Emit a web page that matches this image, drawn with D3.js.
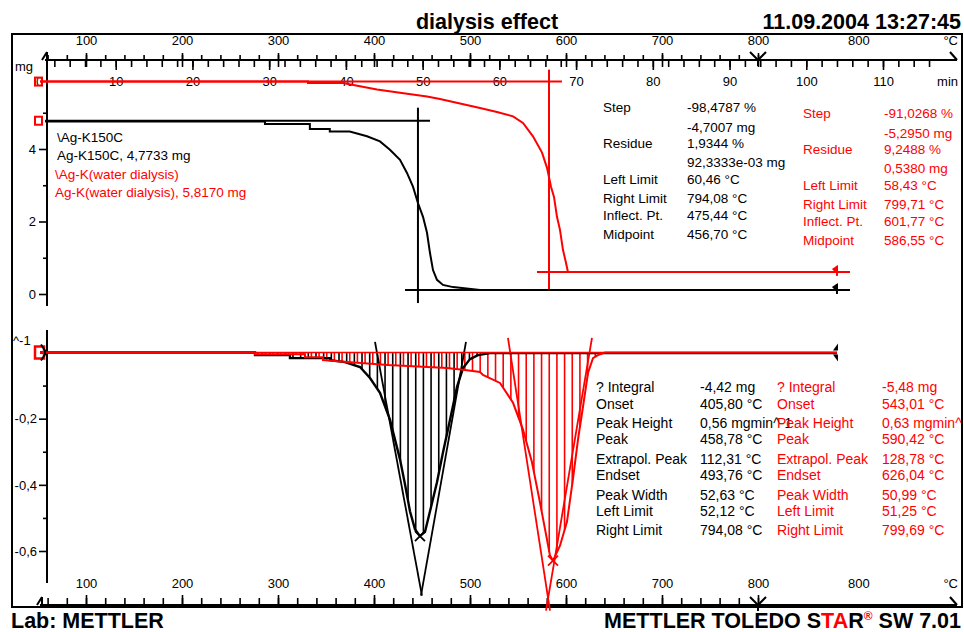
<!DOCTYPE html>
<html>
<head>
<meta charset="utf-8">
<script src="https://cdn.jsdelivr.net/npm/d3@7"></script>
<style>
body { margin: 0; background: #fff; }
text { font-family: "Liberation Sans", Arial, sans-serif; }
</style>
</head>
<body>
<script>
// Curves: [time (min), value]
const blackTga = [[0.8,4.76],[29.45,4.76],[29.45,4.69],[35.3,4.69],[35.3,4.55],[37.9,4.55],[37.9,4.48],[40.5,4.48],
  [42.75,4.35],[44.44,4.21],[45.74,3.98],[47.05,3.70],[47.96,3.34],[48.74,2.96],[49.39,2.51],[50.05,2.13],
  [50.57,1.69],[50.96,1.13],[51.35,0.66],[51.87,0.39],[52.65,0.25],[53.96,0.19],[57.48,0.11],[104,0.11]];
const redTga = [[0.13,5.86],[35.06,5.86],[35.06,5.82],[39.62,5.82],[41.84,5.73],[44.05,5.64],[47.05,5.55],
  [50.57,5.45],[52.26,5.38],[57.48,5.13],[59.69,5.02],[61.78,4.90],[63.08,4.72],[64.38,4.35],[65.56,3.90],
  [66.21,3.48],[66.73,2.96],[67.12,2.68],[67.51,2.13],[67.90,1.77],[68.29,1.22],[68.68,0.86],[68.94,0.61],[104,0.61]];
const blackDtg = [[0.13,0],[28.15,0],[28.15,-0.008],[32.71,-0.008],[32.71,-0.017],[37.93,-0.017],[37.93,-0.023],
  [39.88,-0.029],[41.84,-0.044],[43.14,-0.077],[44.44,-0.122],[45.74,-0.203],[47.05,-0.323],[47.70,-0.398],
  [48.35,-0.480],[49.0,-0.534],[49.65,-0.555],[50.31,-0.542],[50.96,-0.480],[51.87,-0.392],[52.65,-0.302],
  [53.57,-0.203],[54.48,-0.104],[55.26,-0.047],[56.17,-0.020],[57.21,-0.008],[58.78,-0.002],[104,-0.002]];
const redDtg = [[0.13,0],[28.15,0],[28.15,-0.005],[34.67,-0.005],[34.67,-0.014],[37.01,-0.014],[37.01,-0.023],
  [40.14,-0.029],[45.48,-0.038],[53.17,-0.047],[55.52,-0.053],[57.48,-0.059],[57.86,-0.068],[60.08,-0.092],
  [61.78,-0.152],[63.08,-0.233],[64.25,-0.332],[65.29,-0.453],[65.95,-0.534],[66.60,-0.614],[66.99,-0.629],
  [67.90,-0.584],[68.81,-0.512],[69.59,-0.383],[70.25,-0.263],[70.90,-0.164],[71.55,-0.062],[72.20,-0.017],
  [72.85,-0.008],[73.77,0],[104,0]];

// evaluation lines
const blackStepLines = [[[0.8,4.78],[50.96,4.78]], [[49.39,5.14],[49.39,-0.25]], [[47.7,0.11],[105.7,0.11]]];
const redStepLines = [[[0.13,5.86],[68.16,5.86]], [[66.47,6.19],[66.47,0.11]], [[64.9,0.61],[105.7,0.61]]];
const blackTangents = [[[43.79,0.032],[49.91,-0.735]], [[55.65,0.032],[49.78,-0.735]]];
const redTangents = [[[61.12,0.044],[66.60,-0.780]], [[72.07,0.044],[66.08,-0.780]]];
const blackPeak = [49.65, -0.555];
const redPeak = [66.99, -0.629];

// axis ticks
const tempMinor = d3.range(60, 801, 20);
const tempMajor = d3.range(100, 801, 100);
const timeMinor = d3.range(2, 117, 2);
const timeMajor = d3.range(10, 111, 10);
const timeLabels = d3.range(0, 111, 10);

// result tables
const blackStep = [["Step","-98,4787 %"],["","-4,7007 mg"],["Residue","1,9344 %"],["","92,3333e-03 mg"],
  ["Left  Limit","60,46 °C"],["Right  Limit","794,08 °C"],["Inflect.  Pt.","475,44 °C"],["Midpoint","456,70 °C"]];
const redStep = [["Step","-91,0268 %"],["","-5,2950 mg"],["Residue","9,2488 %"],["","0,5380 mg"],
  ["Left  Limit","58,43 °C"],["Right  Limit","799,71 °C"],["Inflect.  Pt.","601,77 °C"],["Midpoint","586,55 °C"]];
const blackPeakTable = [["? Integral","-4,42 mg"],["Onset","405,80 °C"],["Peak Height","0,56 mgmin^-1"],
  ["Peak","458,78 °C"],["Extrapol.  Peak","112,31 °C"],["Endset","493,76 °C"],["Peak  Width","52,63 °C"],
  ["Left  Limit","52,12 °C"],["Right  Limit","794,08 °C"]];
const redPeakTable = [["? Integral","-5,48 mg"],["Onset","543,01 °C"],["Peak Height","0,63 mgmin^-1"],
  ["Peak","590,42 °C"],["Extrapol.  Peak","128,78 °C"],["Endset","626,04 °C"],["Peak  Width","50,99 °C"],
  ["Left  Limit","51,25 °C"],["Right  Limit","799,69 °C"]];
const legendLines = [["\\Ag-K150C","#000"],["Ag-K150C, 4,7733 mg","#000"],
  ["\\Ag-K(water dialysis)","#f00"],["Ag-K(water dialysis), 5,8170 mg","#f00"]];

const RED = "#ff0000";
const svg = d3.select("body").append("svg").attr("width", 964).attr("height", 632);

const x = d3.scaleLinear().domain([0, 110]).range([39, 883]);
const xT = d3.scaleLinear().domain([100, 800]).range([86, 758]);
const yM = d3.scaleLinear().domain([0, 4]).range([294, 149]);
const yD = d3.scaleLinear().domain([0, -0.6]).range([352.5, 551]);

svg.append("defs").append("clipPath").attr("id", "clip")
  .append("rect").attr("x", 13).attr("y", 0).attr("width", 948).attr("height", 632);

// frame
svg.append("rect").attr("x", 12).attr("y", 34).attr("width", 950).attr("height", 573)
  .attr("fill", "none").attr("stroke", "#000").attr("stroke-width", 2);

// header / footer
svg.append("text").attr("x", 487).attr("y", 29).attr("text-anchor", "middle")
  .attr("font-size", 21.5).attr("font-weight", "bold").text("dialysis effect");
svg.append("text").attr("x", 961).attr("y", 29).attr("text-anchor", "end")
  .attr("font-size", 21.5).attr("font-weight", "bold").text("11.09.2004 13:27:45");
svg.append("text").attr("x", 11).attr("y", 628)
  .attr("font-size", 21.5).attr("font-weight", "bold").text("Lab: METTLER");
let foot = svg.append("text").attr("x", 961).attr("y", 628).attr("text-anchor", "end")
  .attr("font-size", 21.5).attr("font-weight", "bold");
foot.append("tspan").text("METTLER TOLEDO S");
foot.append("tspan").attr("fill", RED).text("TA");
foot.append("tspan").text("R");
foot.append("tspan").attr("fill", RED).attr("font-size", 12).attr("dy", -8).text("®");
foot.append("tspan").attr("dy", 8).text(" SW 7.01");

function tidy(g) {
  g.select(".domain").remove();
  g.selectAll("line").attr("stroke", "#000").attr("stroke-width", 1.6);
  g.selectAll("text").attr("font-family", "Liberation Sans, Arial, sans-serif")
    .attr("font-size", 13).attr("fill", "#000");
}

// ---- top axis (temperature above, time below) ----
const topY = 60;
svg.append("line").attr("x1", 45).attr("x2", 957).attr("y1", topY).attr("y2", topY)
  .attr("stroke", "#000").attr("stroke-width", 2);
svg.append("g").attr("transform", `translate(0,${topY})`)
  .call(d3.axisTop(xT).tickValues(tempMinor).tickSize(5).tickFormat("")).call(tidy);
svg.append("g").attr("transform", `translate(0,${topY})`)
  .call(d3.axisTop(xT).tickValues(tempMajor).tickSize(7).tickPadding(8)).call(tidy);
svg.append("g").attr("transform", `translate(0,${topY})`)
  .call(d3.axisBottom(xT).tickValues(tempMajor).tickSize(7).tickFormat("")).call(tidy);
svg.append("g").attr("transform", `translate(0,${topY})`)
  .call(d3.axisBottom(x).tickValues(timeMinor).tickSize(7).tickFormat("")).call(tidy);
svg.append("g").attr("transform", `translate(0,${topY})`)
  .call(d3.axisBottom(x).tickValues(timeMajor).tickSize(10).tickFormat("")).call(tidy);
svg.append("g").attr("transform", `translate(0,${topY})`)
  .call(d3.axisBottom(x).tickValues(timeLabels).tickSize(0).tickPadding(17)).call(tidy);
svg.append("text").attr("x", xT(905)).attr("y", 45).attr("text-anchor", "middle").attr("font-size", 13).text("800");
svg.append("text").attr("x", 958).attr("y", 45).attr("text-anchor", "end").attr("font-size", 13).text("°C");
svg.append("text").attr("x", 958).attr("y", 86).attr("text-anchor", "end").attr("font-size", 13).text("min");

// ---- bottom axis (temperature) ----
const botY = 605;
svg.append("line").attr("x1", 40).attr("x2", 957).attr("y1", botY).attr("y2", botY)
  .attr("stroke", "#000").attr("stroke-width", 2);
svg.append("g").attr("transform", `translate(0,${botY})`)
  .call(d3.axisTop(xT).tickValues(tempMinor).tickSize(7).tickFormat("")).call(tidy);
svg.append("g").attr("transform", `translate(0,${botY})`)
  .call(d3.axisTop(xT).tickValues(tempMajor).tickSize(10).tickPadding(7)).call(tidy);
svg.append("text").attr("x", xT(905)).attr("y", 588).attr("text-anchor", "middle").attr("font-size", 13).text("800");
svg.append("text").attr("x", 958).attr("y", 588).attr("text-anchor", "end").attr("font-size", 13).text("°C");

// axis end symbols
const sym = svg.append("g").attr("fill", "none").attr("stroke", "#000").attr("stroke-width", 2);
[topY, botY].forEach(yy => {
  sym.append("path").attr("d", `M${xT(800) - 8},${yy - 8}L${xT(800)},${yy}L${xT(800) + 8},${yy - 8}M${xT(800)},${yy}V${yy + 6}`);
  sym.append("path").attr("d", `M950,${yy - 8}L957,${yy}`);
});
sym.append("path").attr("d", `M47,${topY - 8}V${topY}M47,${topY - 8}L42,${topY}`);
sym.append("path").attr("d", `M42,${botY - 8}V${botY}M42,${botY - 8}L37,${botY}`);

// ---- left axes ----
svg.append("line").attr("x1", 47).attr("x2", 47).attr("y1", 53).attr("y2", 306)
  .attr("stroke", "#000").attr("stroke-width", 2);
svg.append("g").attr("transform", "translate(47,0)")
  .call(d3.axisLeft(yM).tickValues([0, 2, 4]).tickSize(8).tickPadding(3).tickFormat(d3.format("d"))).call(tidy);
svg.append("g").attr("transform", "translate(47,0)")
  .call(d3.axisLeft(yM).tickValues([1, 3, 5]).tickSize(4).tickFormat("")).call(tidy);
svg.append("text").attr("x", 15).attr("y", 71).attr("font-size", 13).text("mg");

svg.append("line").attr("x1", 47).attr("x2", 47).attr("y1", 330).attr("y2", 583)
  .attr("stroke", "#000").attr("stroke-width", 2);
svg.append("g").attr("transform", "translate(47,0)")
  .call(d3.axisLeft(yD).tickValues([-0.2, -0.4, -0.6]).tickSize(8).tickPadding(2)
    .tickFormat(d => String(d).replace(".", ","))).call(tidy);
svg.append("g").attr("transform", "translate(47,0)")
  .call(d3.axisLeft(yD).tickValues([-0.1, -0.3, -0.5]).tickSize(4).tickFormat("")).call(tidy);
svg.append("text").attr("x", 13).attr("y", 345).attr("font-size", 13).text("^-1");

// ---- TGA panel ----
const lineM = d3.line().x(d => x(d[0])).y(d => yM(d[1]));
const lineD = d3.line().x(d => x(d[0])).y(d => yD(d[1]));

blackStepLines.forEach(l => svg.append("path").attr("d", lineM(l)).attr("stroke", "#000").attr("stroke-width", 2).attr("fill", "none"));
redStepLines.forEach(l => svg.append("path").attr("d", lineM(l)).attr("stroke", RED).attr("stroke-width", 2).attr("fill", "none"));
svg.append("path").attr("d", lineM(blackTga)).attr("stroke", "#000").attr("stroke-width", 2).attr("fill", "none");
svg.append("path").attr("d", lineM(redTga)).attr("stroke", RED).attr("stroke-width", 2).attr("fill", "none");

// ---- DTG panel ----
function valueAt(data, t) {
  const i = d3.bisector(d => d[0]).left(data, t);
  if (i <= 0) return data[0][1];
  if (i >= data.length) return data[data.length - 1][1];
  const a = data[i - 1], b = data[i];
  return b[0] === a[0] ? b[1] : a[1] + (b[1] - a[1]) * (t - a[0]) / (b[0] - a[0]);
}
function hatch(data, from, to, colour) {
  const ts = d3.range(from, to, 1);
  svg.append("g").selectAll("line").data(ts).join("line")
    .attr("x1", t => x(t)).attr("x2", t => x(t))
    .attr("y1", yD(0)).attr("y2", t => yD(valueAt(data, t)))
    .attr("stroke", colour).attr("stroke-width", 1.6);
}
hatch(blackDtg, 1.1, 58.5, "#000");
hatch(redDtg, 1.5, 74, RED);

blackTangents.forEach(l => svg.append("path").attr("d", lineD(l)).attr("stroke", "#000").attr("stroke-width", 1.8).attr("fill", "none"));
redTangents.forEach(l => svg.append("path").attr("d", lineD(l)).attr("stroke", RED).attr("stroke-width", 1.8).attr("fill", "none"));

svg.append("path").attr("d", lineD(blackDtg)).attr("stroke", "#000").attr("stroke-width", 2.4).attr("fill", "none");
svg.append("path").attr("d", lineD(redDtg)).attr("stroke", RED).attr("stroke-width", 2).attr("fill", "none");
svg.append("path").attr("d", lineD([[0.13, 0], [104, 0]])).attr("stroke", RED).attr("stroke-width", 1.6).attr("fill", "none");

[[blackPeak, "#000"], [redPeak, RED]].forEach(([p, c]) => {
  const px = x(p[0]), py = yD(p[1]);
  svg.append("path").attr("d", `M${px - 5},${py - 5}L${px + 5},${py + 5}M${px - 5},${py + 5}L${px + 5},${py - 5}`)
    .attr("stroke", c).attr("stroke-width", 1.8);
});

// start / end markers
[[yM(5.86), RED], [yM(4.78), RED]].forEach(([yy, c]) => {
  svg.append("rect").attr("x", 35).attr("y", yy - 4).attr("width", 7).attr("height", 8)
    .attr("fill", "none").attr("stroke", c).attr("stroke-width", 2);
});
svg.append("rect").attr("x", 35).attr("y", yD(0) - 6).attr("width", 9).attr("height", 12)
  .attr("fill", "none").attr("stroke", RED).attr("stroke-width", 2.5);
svg.append("path").attr("d", `M41,${yD(0) - 8}L45,${yD(0) - 2}L45,${yD(0) + 2}L41,${yD(0) + 8}`)
  .attr("fill", "none").attr("stroke", "#000").attr("stroke-width", 2);
[[yM(0.61), RED], [yM(0.11), "#000"]].forEach(([yy, c]) => {
  const xx = x(104);
  svg.append("path").attr("d", `M${xx - 5},${yy - 3}L${xx + 1},${yy - 7}L${xx + 1},${yy + 3}Z`).attr("fill", c);
  svg.append("line").attr("x1", xx).attr("x2", xx).attr("y1", yy - 6).attr("y2", yy + 4).attr("stroke", c).attr("stroke-width", 2);
});
{
  const xx = x(104), yy = yD(0);
  svg.append("path").attr("d", `M${xx - 4},${yy - 2}L${xx + 1},${yy - 9}L${xx + 1},${yy - 2}ZM${xx - 4},${yy + 2}L${xx + 1},${yy + 9}L${xx + 1},${yy + 2}Z`)
    .attr("fill", "#000");
}

// ---- texts ----
const tg = svg.append("g").attr("clip-path", "url(#clip)").attr("font-size", 13.5).style("white-space", "pre");
legendLines.forEach(([s, c], i) => {
  tg.append("text").attr("x", i < 2 ? 57 : 55).attr("y", [142, 160, 179, 197][i]).attr("fill", c).text(s);
});
const stepRows = [0, 19.5, 35.5, 55, 71.5, 90.5, 107.5, 126.5];
const peakRows = [0, 17, 36, 52, 72, 88, 108, 124, 143];
function table(rows, offsets, lx, vx, y0, c, fs) {
  rows.forEach(([l, v], i) => {
    tg.append("text").attr("x", lx).attr("y", y0 + offsets[i]).attr("fill", c).attr("font-size", fs).text(l);
    tg.append("text").attr("x", vx).attr("y", y0 + offsets[i]).attr("fill", c).attr("font-size", fs).text(v);
  });
}
table(blackStep, stepRows, 603, 687, 112, "#000", 13.5);
table(redStep, stepRows, 803, 884, 118, RED, 13.5);
table(blackPeakTable, peakRows, 596, 700, 392, "#000", 14);
table(redPeakTable, peakRows, 777, 882, 392, RED, 14);
</script>
</body>
</html>
